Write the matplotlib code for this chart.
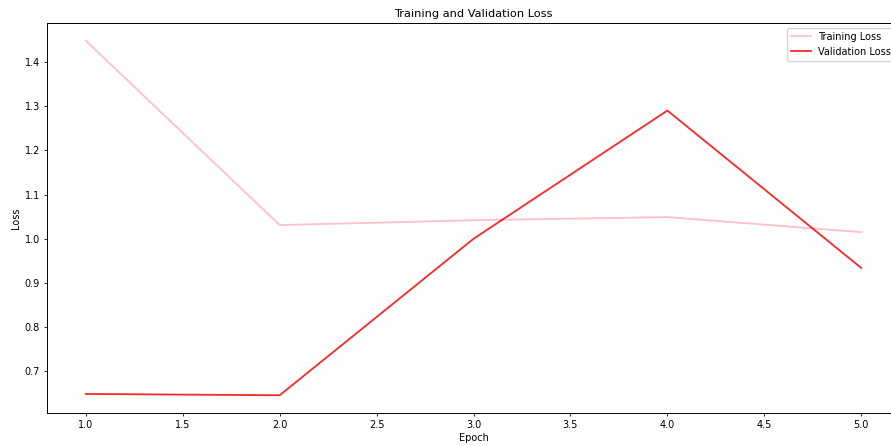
import matplotlib
matplotlib.use("Agg")
import matplotlib.pyplot as plt

epochs = [1, 2, 3, 4, 5]
train_loss = [1.448, 1.031, 1.042, 1.049, 1.015]
val_loss = [0.649, 0.646, 1.0, 1.29, 0.934]

W, H = 891, 446
fig = plt.figure(figsize=(W / 100, H / 100), dpi=100)
left, right, top, bottom = 47, 900, 23, 413
ax = fig.add_axes([left / W, 1 - bottom / H, (right - left) / W, (bottom - top) / H])

ax.plot(epochs, train_loss, color="pink", linewidth=1.3, label="Training Loss")
ax.plot(epochs, val_loss, color="red", linewidth=1.3, alpha=0.85, label="Validation Loss")
ax.set_title("Training and Validation Loss", fontsize=8.2, pad=4)
ax.set_xlabel("Epoch", fontsize=7, labelpad=2)
ax.set_ylabel("Loss", fontsize=7, labelpad=3)
ax.tick_params(labelsize=7, length=2.5, width=0.6, pad=2.5)
for s in ax.spines.values():
    s.set_linewidth(0.7)
ax.legend(loc="upper right", fontsize=7, frameon=True)

fig.savefig("out.png", dpi=100)
